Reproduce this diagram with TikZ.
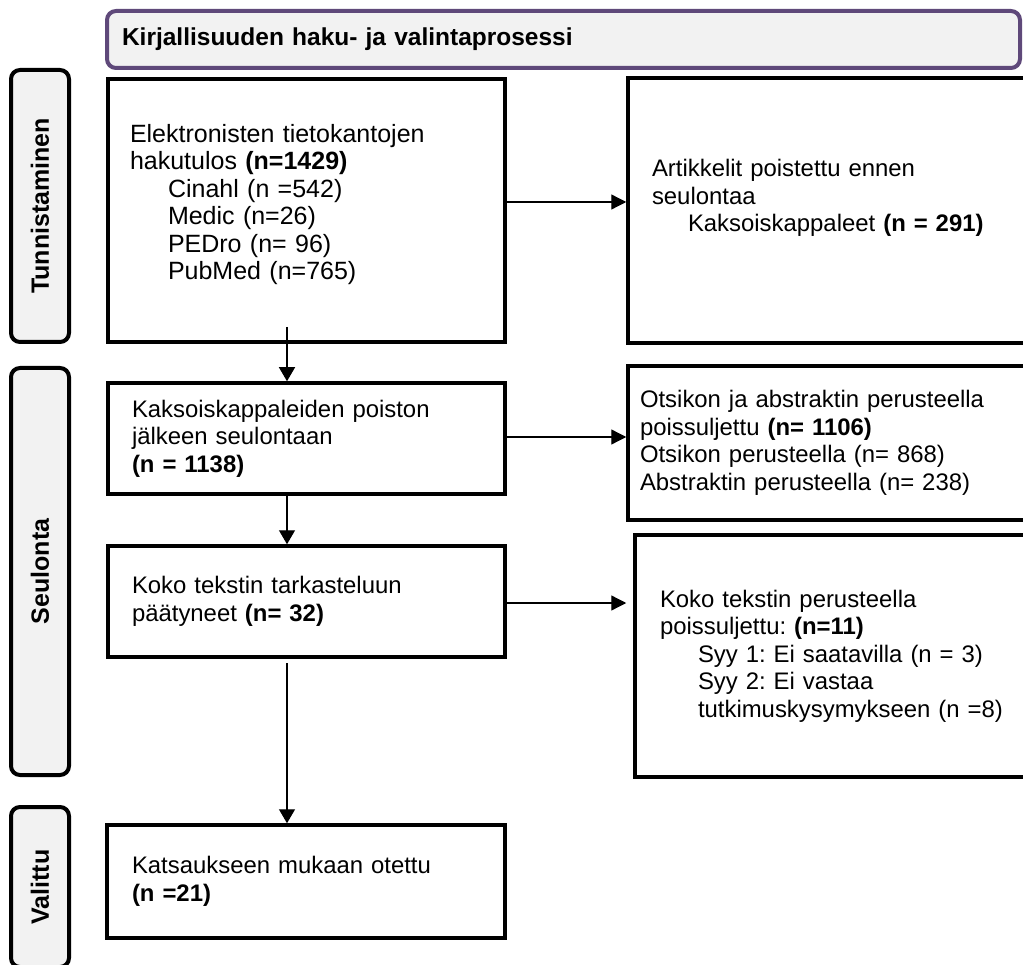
\documentclass[tikz,border=0pt]{standalone}
\usepackage{fontspec}
\setmainfont{Liberation Sans}
\usetikzlibrary{arrows.meta}
\definecolor{hdrpurple}{RGB}{95,73,122}
\definecolor{lightfill}{RGB}{242,242,242}
\frenchspacing
\begin{document}
\begin{tikzpicture}[x=1pt,y=-1pt,
  txt/.style={font=\fontsize{23.9}{27.5}\selectfont\frenchspacing},
  box/.style={draw=black, line width=3.5pt, rectangle, align=left, txt, inner ysep=0pt},
  sidebox/.style={draw=black, line width=4pt, fill=lightfill, rounded corners=9pt, rotate=90,
    font=\fontsize{25}{28}\selectfont\bfseries, inner sep=0pt, minimum height=58pt},
  arr/.style={line width=1.3pt, -{Triangle[length=14pt,width=16pt]}},
  harr/.style={line width=1.3pt, -{Triangle[length=15pt,width=15pt]}}
]
\path[use as bounding box] (0,0) rectangle (1023,965);
\clip (0,0) rectangle (1023,965);

% header
\node[draw=hdrpurple, line width=4pt, fill=lightfill, rounded corners=9pt,
  minimum width=913pt, minimum height=57pt, inner xsep=15pt, text width=883pt,
  align=left, font=\fontsize{24.5}{28}\selectfont\bfseries] (hdr) at (563.5,39.5)
  {Kirjallisuuden haku- ja valintaprosessi};

% side labels
\node[sidebox, minimum width=272pt] (s1) at (40,206) {Tunnistaminen};
\node[sidebox, minimum width=407pt] (s2) at (40,571.5) {Seulonta};
\node[sidebox, minimum width=160pt] (s3) at (40,887) {Valittu};

% left column
\node[box, minimum width=397pt, minimum height=263pt, inner xsep=22pt, text width=353pt,
  font=\fontsize{25}{27.5}\selectfont] (b1) at (306.5,210.5)
  {Elektronisten tietokantojen\\
   hakutulos \textbf{(n=1429)}\\
   \hspace*{38pt}Cinahl (n =542)\\
   \hspace*{38pt}Medic (n=26)\\
   \hspace*{38pt}PEDro (n= 96)\\
   \hspace*{38pt}PubMed (n=765)\\[-10pt]\mbox{}};
\node[box, minimum width=397pt, minimum height=111pt, inner xsep=24pt, text width=349pt] (b2) at (306.5,438.5)
  {Kaksoiskappaleiden poiston\\
   jälkeen seulontaan\\
   \textbf{(n = 1138)}};
\node[box, minimum width=397pt, minimum height=111pt, inner xsep=24pt, text width=349pt] (b3) at (306.5,601.5)
  {Koko tekstin tarkasteluun\\
   päätyneet \textbf{(n= 32)}};
\node[box, minimum width=398pt, minimum height=113pt, inner xsep=25pt, text width=348pt] (b4) at (306,881.5)
  {Katsaukseen mukaan otettu\\
   \textbf{(n =21)}};

% right column
\node[box, minimum width=412pt, minimum height=265pt, inner xsep=24pt, text width=364pt] (r1) at (834,210.5)
  {Artikkelit poistettu ennen\\
   seulontaa\\
   \hspace*{36pt}Kaksoiskappaleet \textbf{(n = 291)}\\[2pt]\mbox{}};
\node[box, minimum width=412pt, minimum height=154pt, inner xsep=12pt, text width=388pt] (r2) at (834,443)
  {Otsikon ja abstraktin perusteella\\
   poissuljettu \textbf{(n= 1106)}\\
   Otsikon perusteella (n= 868)\\
   Abstraktin perusteella (n= 238)};
\node[box, minimum width=405pt, minimum height=242pt, inner xsep=25pt, text width=355pt] (r3) at (837.5,656)
  {Koko tekstin perusteella\\
   poissuljettu: \textbf{(n=11)}\\
   \hspace*{38pt}Syy 1: Ei saatavilla (n = 3)\\
   \hspace*{38pt}Syy 2: Ei vastaa\\
   \hspace*{38pt}tutkimuskysymykseen (n =8)};

% connectors
\coordinate (c1) at (287,327);
\coordinate (c2) at (287,494);
\coordinate (c3) at (287,663);
\draw[arr] (c1) -- (c1 |- b2.north);
\draw[arr] (c2 |- b2.south) -- (c2 |- b3.north);
\draw[arr] (c3) -- (c3 |- b4.north);

\coordinate (h1) at (505,202);
\coordinate (h2) at (505,437);
\coordinate (h3) at (505,603);
\draw[harr] (b1.east |- h1) -- (r1.west |- h1);
\draw[harr] (b2.east |- h2) -- (r2.west |- h2);
\draw[harr, shorten >=7pt] (b3.east |- h3) -- (r3.west |- h3);
\end{tikzpicture}
\end{document}
